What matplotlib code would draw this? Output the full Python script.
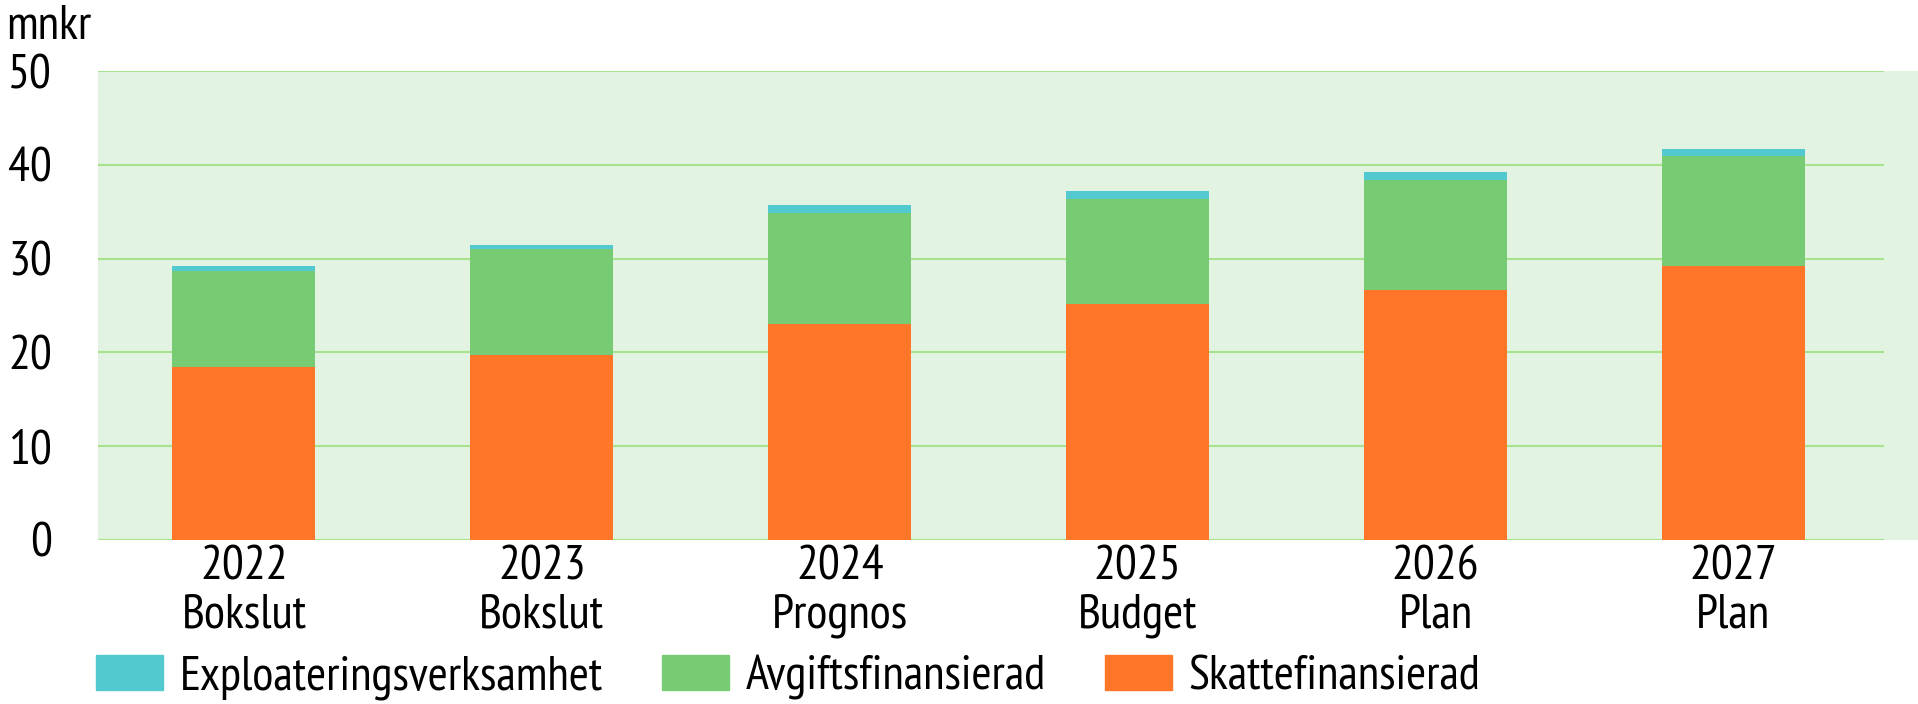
import numpy as np
import matplotlib.pyplot as plt
from matplotlib.patches import Patch

plt.rcParams['font.family'] = ['PT Sans Narrow', 'DejaVu Sans']

years = ['2022', '2023', '2024', '2025', '2026', '2027']
kinds = ['Bokslut', 'Bokslut', 'Prognos', 'Budget', 'Plan', 'Plan']
skatt = [18.4, 19.75, 23.0, 25.2, 26.7, 29.2]
avgift = [10.3, 11.25, 11.9, 11.2, 11.7, 11.7]
exploatering = [0.5, 0.5, 0.8, 0.8, 0.8, 0.8]

c_skatt = '#ff7629'
c_avgift = '#77cc73'
c_expl = '#52c8cf'
fs = 35

fig = plt.figure(figsize=(19.18, 7.04), dpi=100)
ax = fig.add_axes([0.0511, 0.233, 0.9489, 0.666])
ax.set_facecolor('#e2f3e2')

x = np.arange(len(years))
w = 0.48
ax.bar(x, skatt, w, color=c_skatt, zorder=3)
ax.bar(x, avgift, w, bottom=skatt, color=c_avgift, zorder=3)
ax.bar(x, exploatering, w, bottom=np.array(skatt) + np.array(avgift), color=c_expl, zorder=3)

ax.set_xlim(-0.49, 5.62)
ax.set_ylim(0, 50)
yt = [0, 10, 20, 30, 40, 50]
ax.set_yticks(yt)
for y in yt:
    ax.axhline(y, xmax=0.981, color='#a6e38c', lw=1.5, zorder=1)

for s in ax.spines.values():
    s.set_visible(False)
ax.tick_params(length=0)
ax.tick_params(axis='y', labelsize=fs, pad=33)
ax.set_xticks(x)
ax.set_xticklabels([f'{a}\n{b}' for a, b in zip(years, kinds)], fontsize=fs, linespacing=1.12)
ax.tick_params(axis='x', pad=4)

fig.text(0.003, 0.962, 'mnkr', fontsize=fs, va='center', ha='left')

handles = [Patch(color=c_expl), Patch(color=c_avgift), Patch(color=c_skatt)]
labels = ['Exploateringsverksamhet', 'Avgiftsfinansierad', 'Skattefinansierad']
fig.legend(handles, labels, loc='center left', bbox_to_anchor=(0.040, 0.038), ncol=3,
           frameon=False, fontsize=fs, handlelength=1.38, handleheight=0.76,
           handletextpad=0.35, columnspacing=1.2, borderaxespad=0)

fig.savefig('out.png', dpi=100)
